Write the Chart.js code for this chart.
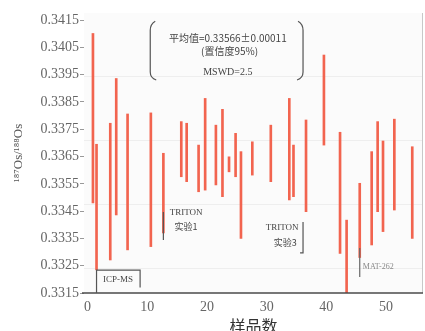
<!DOCTYPE html>
<html><head><meta charset="utf-8">
<script src="https://cdn.jsdelivr.net/npm/chart.js@4"></script>
<style>
html,body{margin:0;padding:0;background:#fff;overflow:hidden;width:425px;height:331px;}
</style></head>
<body>
<canvas id="c" width="425" height="342"></canvas>
<script>
// sample number (x) of each measurement
const samples = [0.9,1.5,3.8,4.8,6.7,10.6,12.7,15.7,16.6,18.6,19.7,21.5,22.6,23.7,24.8,25.7,27.6,30.7,33.8,34.5,36.6,39.6,42.3,43.4,45.6,47.6,48.6,49.5,51.4,54.4];
// lower and upper bounds of 187Os/188Os
const lows  = [0.33480,0.33235,0.33271,0.33436,0.33308,0.33320,0.33370,0.33576,0.33558,0.33521,0.33527,0.33546,0.33503,0.33594,0.33576,0.33350,0.33582,0.33558,0.33491,0.33503,0.33448,0.33692,0.33295,0.33150,0.33280,0.33326,0.33448,0.33375,0.33454,0.33350];
const highs = [0.34101,0.33695,0.33772,0.33936,0.33806,0.33810,0.33662,0.33778,0.33772,0.33692,0.33863,0.33765,0.33823,0.33649,0.33735,0.33668,0.33704,0.33765,0.33863,0.33692,0.33784,0.34022,0.33739,0.33417,0.33552,0.33668,0.33778,0.33707,0.33787,0.33686];
const yTicks = [0.3315,0.3325,0.3335,0.3345,0.3355,0.3365,0.3375,0.3385,0.3395,0.3405,0.3415];
const xTicks = [0,10,20,30,40,50];
const gridVals = [0.33945,0.33711,0.33476,0.33242];

const serif = '"Liberation Serif","DejaVu Serif",serif';
const cjk = '"Noto Sans CJK SC","Liberation Serif",sans-serif';

const deco = {
  id:'deco',
  beforeDraw(chart){
    const {ctx, chartArea:a, scales:{x,y}} = chart;
    ctx.save();
    ctx.fillStyle='#fbfbfb';
    ctx.fillRect(a.left,a.top,a.right-a.left,a.bottom-a.top);
    ctx.strokeStyle='#eeeeee'; ctx.lineWidth=1;
    gridVals.forEach(v=>{const p=Math.round(y.getPixelForValue(v))+0.5;ctx.beginPath();ctx.moveTo(a.left,p);ctx.lineTo(a.right,p);ctx.stroke();});
    ctx.strokeStyle='#c8c8c8';
    ctx.beginPath();ctx.moveTo(a.right-0.5,a.top);ctx.lineTo(a.right-0.5,a.bottom);ctx.stroke();
    ctx.restore();
  },
  afterDatasetsDraw(chart){
    const {ctx, chartArea:a, scales:{x,y}} = chart;
    const X=v=>x.getPixelForValue(v), Y=v=>y.getPixelForValue(v);
    ctx.save();
    // axis line
    ctx.strokeStyle='#4a4a4a'; ctx.lineWidth=1.5;
    ctx.beginPath();ctx.moveTo(a.left-2,a.bottom);ctx.lineTo(a.right,a.bottom);ctx.stroke();
    // brace box
    ctx.strokeStyle='#555'; ctx.lineWidth=1.2;
    const bl=X(10.5), br=X(36.1), bt=Y(0.34135), bb=Y(0.33938);
    ctx.beginPath();
    ctx.moveTo(bl+5,bt-3);ctx.quadraticCurveTo(bl,bt,bl,bt+6);ctx.lineTo(bl,bb-6);ctx.quadraticCurveTo(bl,bb,bl+6,bb+2);
    ctx.moveTo(br-5,bt-3);ctx.quadraticCurveTo(br,bt,br,bt+6);ctx.lineTo(br,bb-6);ctx.quadraticCurveTo(br,bb,br-6,bb+2);
    ctx.stroke();
    ctx.fillStyle='#444'; ctx.textAlign='center'; ctx.textBaseline='middle';
    ctx.font='10px '+cjk;
    ctx.fillText('平均值=0.33566±0.00011',X(23.5),Y(0.34084));
    ctx.fillText('(置信度95%)',X(23.8),Y(0.34036));
    ctx.font='10px '+serif;
    ctx.fillText('MSWD=2.5',X(23.5),Y(0.33960));
    // ICP-MS box
    ctx.strokeStyle='#555'; ctx.lineWidth=1.2;
    ctx.beginPath();
    ctx.moveTo(X(1.5),Y(0.3315));ctx.lineTo(X(1.5),Y(0.33234));ctx.lineTo(X(8.8),Y(0.33234));ctx.lineTo(X(8.8),Y(0.33170));
    ctx.stroke();
    ctx.fillStyle='#444'; ctx.font='9px '+serif;
    ctx.fillText('ICP-MS',X(5.1),Y(0.33198));
    // TRITON 1
    ctx.beginPath();ctx.moveTo(X(12.7),Y(0.33447));ctx.lineTo(X(12.7),Y(0.33344));ctx.stroke();
    ctx.font='9px '+serif; ctx.fillText('TRITON',X(16.5),Y(0.33443));
    ctx.font='9px '+cjk; ctx.fillText('实验1',X(16.5),Y(0.33395));
    // TRITON 3
    ctx.beginPath();ctx.moveTo(X(36.1),Y(0.3341));ctx.lineTo(X(36.1),Y(0.33297));ctx.lineTo(X(35.6),Y(0.33297));ctx.stroke();
    ctx.font='9px '+serif; ctx.fillText('TRITON',X(32.6),Y(0.33388));
    ctx.font='9px '+cjk; ctx.fillText('实验3',X(33.1),Y(0.33333));
    // MAT-262
    ctx.strokeStyle='#666';
    ctx.beginPath();ctx.moveTo(X(45.6),Y(0.33315));ctx.lineTo(X(45.6),Y(0.33209));ctx.stroke();
    ctx.fillStyle='#888'; ctx.font='8px '+serif;
    ctx.fillText('MAT-262',X(48.7),Y(0.33245));
    ctx.restore();
  }
};

new Chart(document.getElementById('c'),{
  type:'bar',
  data:{datasets:[{
    data: samples.map((s,i)=>({x:s,y:[lows[i],highs[i]]})),
    backgroundColor:'#f2644f', borderWidth:0, barThickness:2
  }]},
  options:{
    responsive:false, animation:false, devicePixelRatio:1,
    layout:{padding:{left:0,top:13,right:2,bottom:0}},
    plugins:{legend:{display:false},tooltip:{enabled:false}},
    scales:{
      x:{type:'linear',min:-0.6,max:56.2,offset:false,
        afterBuildTicks:s=>{s.ticks=xTicks.map(v=>({value:v}));},
        afterFit:s=>{s.height=49;},
        grid:{display:false,drawTicks:false,offset:false},border:{display:false},
        ticks:{padding:6,color:'#666',font:{family:serif,size:14},maxRotation:0},
        title:{display:true,text:'样品数',color:'#333',font:{family:cjk,size:16},padding:{top:0,bottom:6}}
      },
      y:{type:'linear',min:0.3315,max:0.34176,
        afterBuildTicks:s=>{s.ticks=yTicks.map(v=>({value:v}));},
        afterFit:s=>{s.width=84;},
        grid:{drawOnChartArea:false,drawTicks:true,tickLength:4,color:'#999'},border:{display:false},
        ticks:{padding:1,color:'#666',font:{family:serif,size:14},callback:v=>v.toFixed(4)},
        title:{display:true,text:'¹⁸⁷Os/¹⁸⁸Os',color:'#555',font:{family:serif,size:13},padding:{top:11,bottom:0}}
      }
    }
  },
  plugins:[deco]
});
</script>
</body></html>
